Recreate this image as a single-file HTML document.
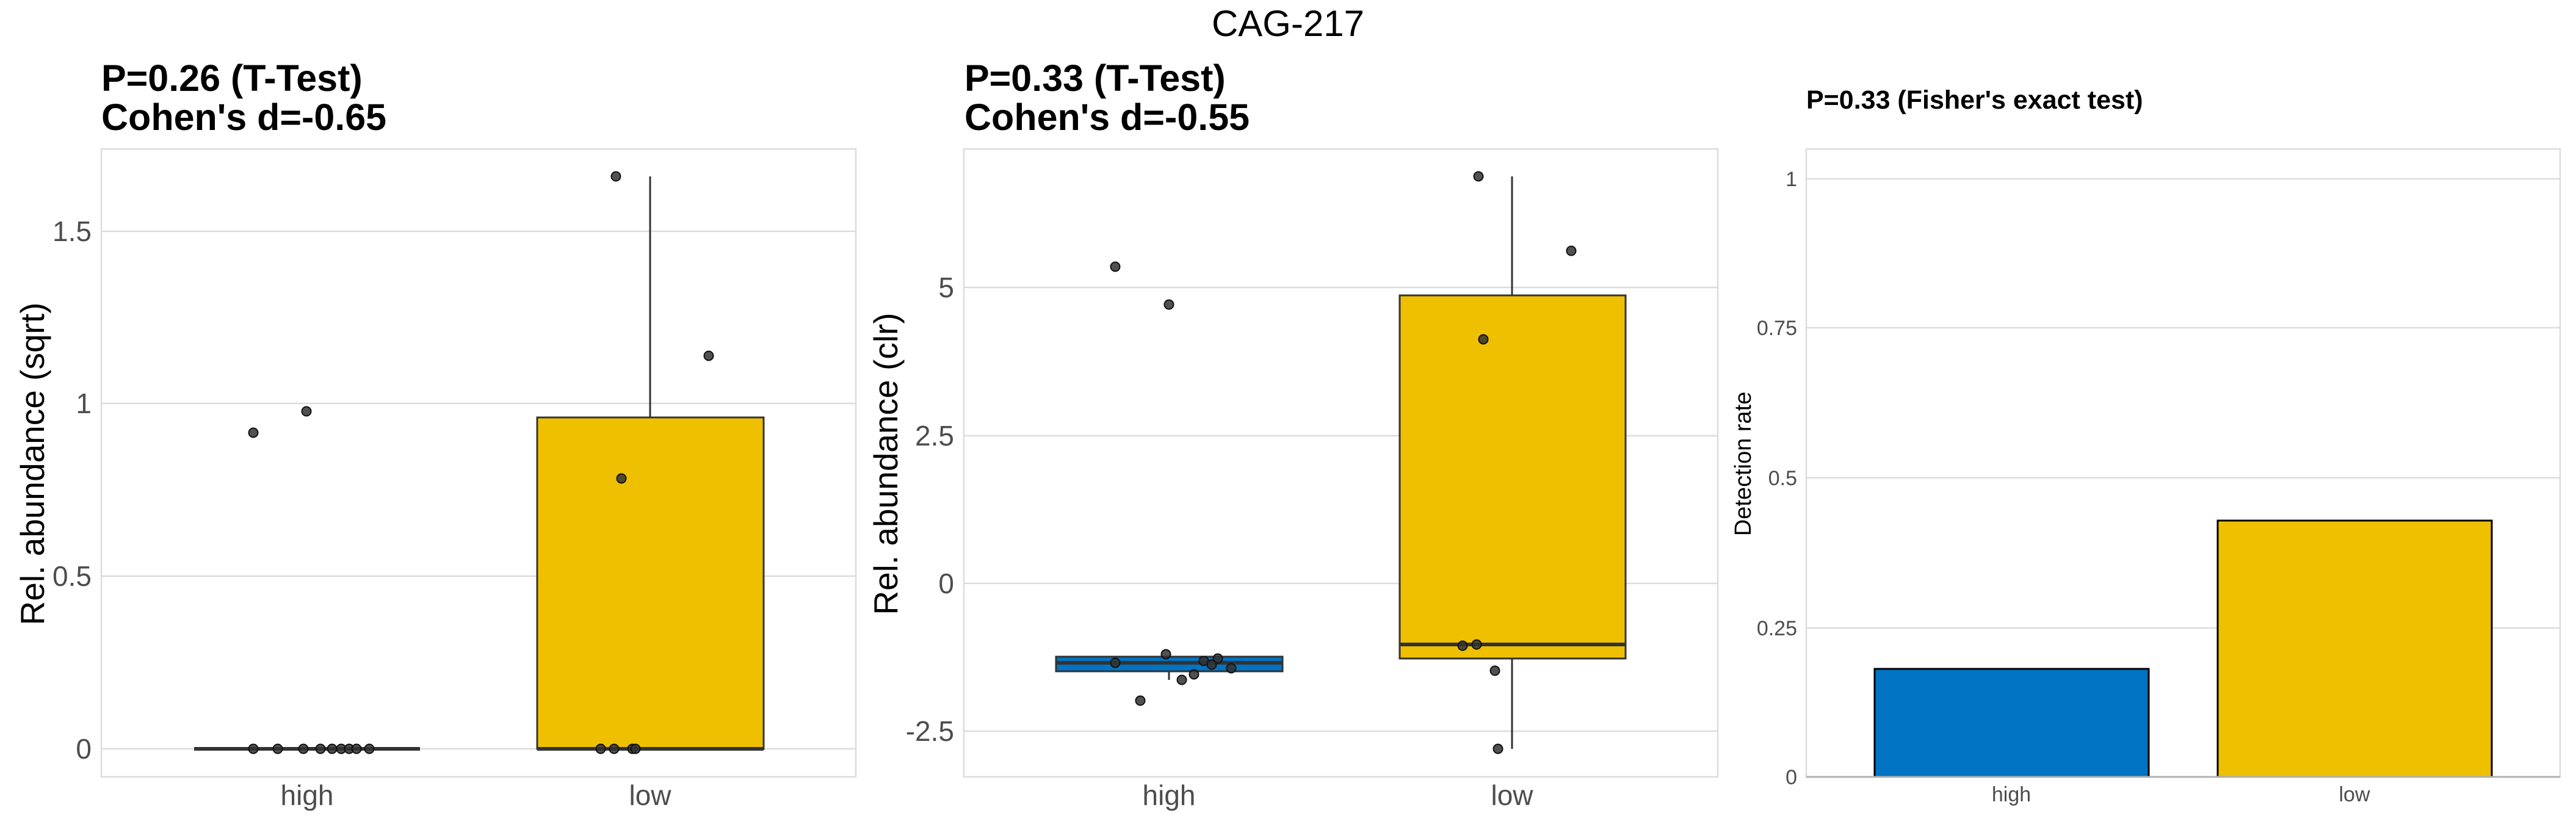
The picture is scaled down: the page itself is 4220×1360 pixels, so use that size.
<!DOCTYPE html>
<html><head><meta charset="utf-8"><style>html,body{margin:0;padding:0;background:#fff}svg{display:block}</style></head>
<body>
<svg width="4220" height="1360" viewBox="0 0 4220 1360" xmlns="http://www.w3.org/2000/svg" font-family="Liberation Sans, Arial, sans-serif">
<rect width="4220" height="1360" fill="#fff"/>
<text x="2110" y="59" font-size="60" text-anchor="middle" fill="#000">CAG-217</text>

<!-- Panel 1 -->
<g>
<text x="166" y="149" font-size="61" font-weight="bold">P=0.26 (T-Test)</text>
<text x="166" y="213" font-size="61" font-weight="bold">Cohen's d=-0.65</text>
<g stroke="#dcdcdc" stroke-width="2.5">
<line x1="166" y1="379" x2="1402" y2="379"/><line x1="166" y1="661" x2="1402" y2="661"/>
<line x1="166" y1="944" x2="1402" y2="944"/><line x1="166" y1="1227" x2="1402" y2="1227"/>
</g>
<rect x="166" y="244" width="1236" height="1029" fill="none" stroke="#dcdcdc" stroke-width="2.5"/>
<g font-size="46" fill="#4d4d4d" text-anchor="end">
<text x="150" y="395">1.5</text><text x="150" y="677">1</text><text x="150" y="960">0.5</text><text x="150" y="1243">0</text>
</g>
<text transform="translate(72,760) rotate(-90)" font-size="55" text-anchor="middle">Rel. abundance (sqrt)</text>
<g font-size="46" fill="#4d4d4d" text-anchor="middle"><text x="503" y="1319">high</text><text x="1065" y="1319">low</text></g>
<line x1="318" y1="1227" x2="688" y2="1227" stroke="#333" stroke-width="6"/>
<line x1="1065" y1="289" x2="1065" y2="684" stroke="#333" stroke-width="3"/>
<rect x="880" y="684" width="371" height="543" fill="#EFC000" stroke="#333" stroke-width="3"/>
<line x1="880" y1="1227" x2="1251" y2="1227" stroke="#333" stroke-width="6"/>
<g fill="#333" fill-opacity="0.85" stroke="#111" stroke-width="2">
<circle cx="415" cy="709" r="7.5"/><circle cx="502" cy="674" r="7.5"/>
<circle cx="415" cy="1227" r="7.5"/><circle cx="455" cy="1227" r="7.5"/><circle cx="497" cy="1227" r="7.5"/><circle cx="525" cy="1227" r="7.5"/><circle cx="544" cy="1227" r="7.5"/><circle cx="559" cy="1227" r="7.5"/><circle cx="572" cy="1227" r="7.5"/><circle cx="584" cy="1227" r="7.5"/><circle cx="605" cy="1227" r="7.5"/>
<circle cx="1009" cy="289" r="7.5"/><circle cx="1161" cy="583" r="7.5"/><circle cx="1018" cy="784" r="7.5"/>
<circle cx="984" cy="1227" r="7.5"/><circle cx="1006" cy="1227" r="7.5"/><circle cx="1036" cy="1227" r="7.5"/><circle cx="1041" cy="1227" r="7.5"/>
</g>
</g>

<!-- Panel 2 -->
<g>
<text x="1580" y="149" font-size="61" font-weight="bold">P=0.33 (T-Test)</text>
<text x="1580" y="213" font-size="61" font-weight="bold">Cohen's d=-0.55</text>
<g stroke="#dcdcdc" stroke-width="2.5">
<line x1="1579" y1="471" x2="2814" y2="471"/><line x1="1579" y1="714" x2="2814" y2="714"/>
<line x1="1579" y1="956" x2="2814" y2="956"/><line x1="1579" y1="1198" x2="2814" y2="1198"/>
</g>
<rect x="1579" y="244" width="1235" height="1029" fill="none" stroke="#dcdcdc" stroke-width="2.5"/>
<g font-size="46" fill="#4d4d4d" text-anchor="end">
<text x="1563" y="487">5</text><text x="1563" y="730">2.5</text><text x="1563" y="972">0</text><text x="1563" y="1214">-2.5</text>
</g>
<text transform="translate(1470,760) rotate(-90)" font-size="55" text-anchor="middle">Rel. abundance (clr)</text>
<g font-size="46" fill="#4d4d4d" text-anchor="middle"><text x="1915" y="1319">high</text><text x="2477" y="1319">low</text></g>
<line x1="1915" y1="1100" x2="1915" y2="1114" stroke="#333" stroke-width="3"/>
<rect x="1730" y="1076" width="371" height="24" fill="#0073C2" stroke="#333" stroke-width="3"/>
<line x1="1730" y1="1086" x2="2101" y2="1086" stroke="#333" stroke-width="6"/>
<line x1="2477" y1="289" x2="2477" y2="1227" stroke="#333" stroke-width="3"/>
<rect x="2293" y="484" width="370" height="595" fill="#EFC000" stroke="#333" stroke-width="3"/>
<line x1="2293" y1="1056" x2="2663" y2="1056" stroke="#333" stroke-width="6"/>
<g fill="#333" fill-opacity="0.85" stroke="#111" stroke-width="2">
<circle cx="1827" cy="437" r="7.5"/><circle cx="1915" cy="499" r="7.5"/><circle cx="1910" cy="1072" r="7.5"/>
<circle cx="1827" cy="1086" r="7.5"/><circle cx="1972" cy="1083" r="7.5"/><circle cx="1995" cy="1079" r="7.5"/>
<circle cx="1985" cy="1089" r="7.5"/><circle cx="2017" cy="1095" r="7.5"/><circle cx="1956" cy="1105" r="7.5"/>
<circle cx="1936" cy="1114" r="7.5"/><circle cx="1868" cy="1148" r="7.5"/>
<circle cx="2422" cy="289" r="7.5"/><circle cx="2574" cy="411" r="7.5"/><circle cx="2430" cy="556" r="7.5"/>
<circle cx="2396" cy="1058" r="7.5"/><circle cx="2419" cy="1056" r="7.5"/><circle cx="2449" cy="1099" r="7.5"/><circle cx="2454" cy="1227" r="7.5"/>
</g>
</g>

<!-- Panel 3 -->
<g>
<text x="2959" y="178" font-size="43" font-weight="bold">P=0.33 (Fisher's exact test)</text>
<g stroke="#dcdcdc" stroke-width="2.5">
<line x1="2959" y1="293" x2="4194" y2="293"/><line x1="2959" y1="537" x2="4194" y2="537"/>
<line x1="2959" y1="783" x2="4194" y2="783"/><line x1="2959" y1="1029" x2="4194" y2="1029"/>
</g>
<rect x="2959" y="244" width="1235" height="1029" fill="none" stroke="#dcdcdc" stroke-width="2.5"/>
<g font-size="34" fill="#4d4d4d" text-anchor="end">
<text x="2944" y="305">1</text><text x="2944" y="549">0.75</text><text x="2944" y="795">0.5</text><text x="2944" y="1041">0.25</text><text x="2944" y="1285">0</text>
</g>
<text transform="translate(2868,760) rotate(-90)" font-size="38" text-anchor="middle">Detection rate</text>
<g font-size="34" fill="#4d4d4d" text-anchor="middle"><text x="3295" y="1313">high</text><text x="3857" y="1313">low</text></g>
<rect x="3071" y="1096" width="449" height="177" fill="#0073C2" stroke="#000" stroke-width="3"/>
<rect x="3633" y="853" width="449" height="420" fill="#EFC000" stroke="#000" stroke-width="3"/>
<line x1="2959" y1="1273" x2="4194" y2="1273" stroke="#b0b0b0" stroke-width="3"/>
</g>
</svg>
</body></html>
